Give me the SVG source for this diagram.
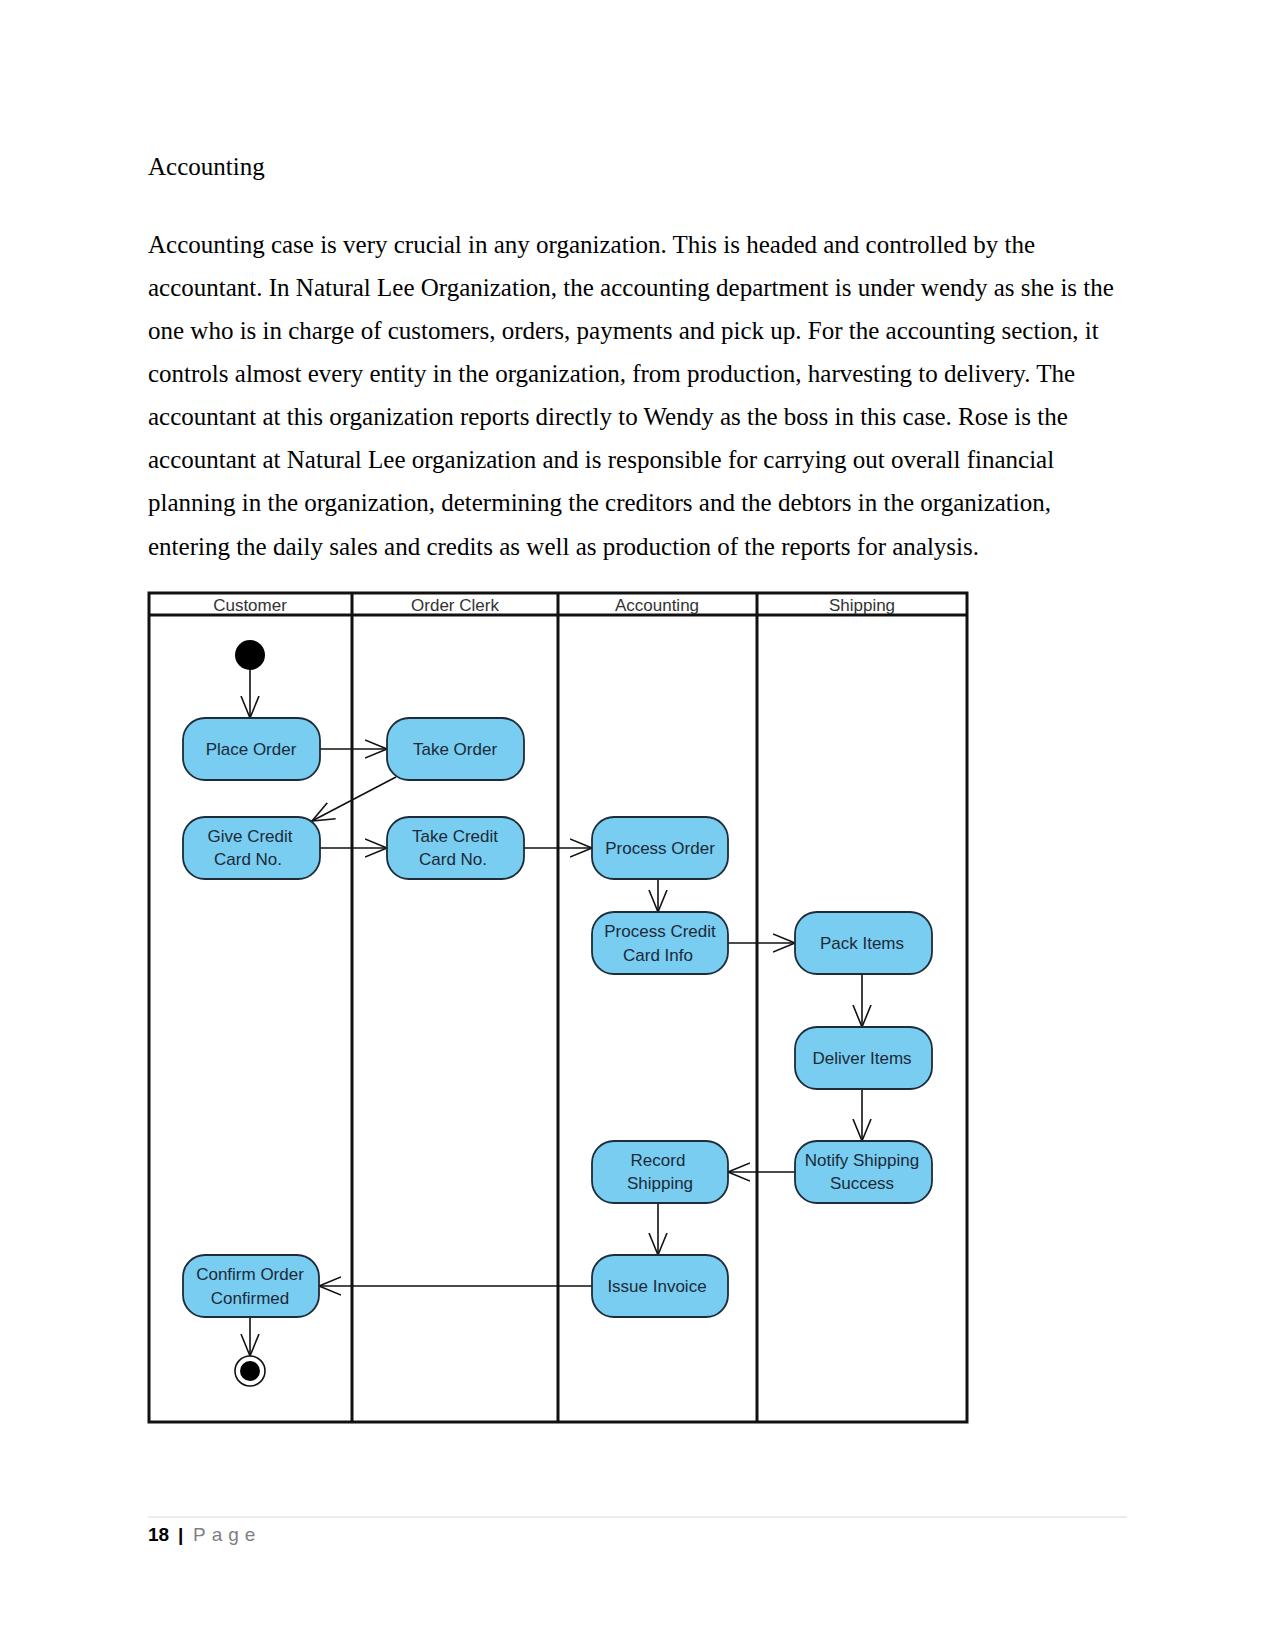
<svg xmlns="http://www.w3.org/2000/svg" width="1275" height="1651" viewBox="0 0 1275 1651">
<style>
.body{font-family:"Liberation Serif","Times New Roman",serif;font-size:25px;fill:#000}
.hdr{font-family:"Liberation Sans",Arial,sans-serif;font-size:17px;fill:#333;text-anchor:middle}
.nt{font-family:"Liberation Sans",Arial,sans-serif;font-size:17px;fill:#1c2a38;text-anchor:middle}
.node{fill:#78cdf0;stroke:#1d2c38;stroke-width:1.8}
.lane{fill:none;stroke:#111;stroke-width:3}
.conn{fill:none;stroke:#111;stroke-width:1.6}
.ft{font-family:"Liberation Sans",Arial,sans-serif;font-size:19px}
</style>
<defs>
<marker id="arr" markerUnits="userSpaceOnUse" markerWidth="30" markerHeight="30" refX="22" refY="10" orient="auto" viewBox="0 0 30 20">
<path d="M0,1 L22,10 L0,19" fill="none" stroke="#111" stroke-width="1.6"/>
</marker>
</defs>
<rect width="1275" height="1651" fill="#fff"/>
<text class="body" x="148" y="175">Accounting</text>
<text class="body" x="148" y="253">Accounting case is very crucial in any organization. This is headed and controlled by the</text>
<text class="body" x="148" y="296">accountant. In Natural Lee Organization, the accounting department is under wendy as she is the</text>
<text class="body" x="148" y="339">one who is in charge of customers, orders, payments and pick up. For the accounting section, it</text>
<text class="body" x="148" y="382">controls almost every entity in the organization, from production, harvesting to delivery. The</text>
<text class="body" x="148" y="425">accountant at this organization reports directly to Wendy as the boss in this case. Rose is the</text>
<text class="body" x="148" y="468">accountant at Natural Lee organization and is responsible for carrying out overall financial</text>
<text class="body" x="148" y="511">planning in the organization, determining the creditors and the debtors in the organization,</text>
<text class="body" x="148" y="555">entering the daily sales and credits as well as production of the reports for analysis.</text>
<g id="swimlanes">
<rect class="lane" x="149" y="593" width="818" height="829"/>
<line class="lane" x1="149" y1="615" x2="967" y2="615"/>
<line class="lane" x1="352" y1="593" x2="352" y2="1422"/>
<line class="lane" x1="558" y1="593" x2="558" y2="1422"/>
<line class="lane" x1="757" y1="593" x2="757" y2="1422"/>
<text class="hdr" x="250" y="611">Customer</text>
<text class="hdr" x="455" y="611">Order Clerk</text>
<text class="hdr" x="657" y="611">Accounting</text>
<text class="hdr" x="862" y="611">Shipping</text>
</g>
<g id="connectors">
<line class="conn" x1="250" y1="670" x2="250" y2="718" marker-end="url(#arr)"/>
<line class="conn" x1="320" y1="749" x2="387" y2="749" marker-end="url(#arr)"/>
<line class="conn" x1="396" y1="777" x2="312" y2="821" marker-end="url(#arr)"/>
<line class="conn" x1="320" y1="848" x2="387" y2="848" marker-end="url(#arr)"/>
<line class="conn" x1="524" y1="848" x2="592" y2="848" marker-end="url(#arr)"/>
<line class="conn" x1="658" y1="879" x2="658" y2="912" marker-end="url(#arr)"/>
<line class="conn" x1="728" y1="943" x2="795" y2="943" marker-end="url(#arr)"/>
<line class="conn" x1="862" y1="974" x2="862" y2="1027" marker-end="url(#arr)"/>
<line class="conn" x1="862" y1="1089" x2="862" y2="1141" marker-end="url(#arr)"/>
<line class="conn" x1="795" y1="1172" x2="728" y2="1172" marker-end="url(#arr)"/>
<line class="conn" x1="658" y1="1203" x2="658" y2="1255" marker-end="url(#arr)"/>
<line class="conn" x1="592" y1="1286" x2="319" y2="1286" marker-end="url(#arr)"/>
<line class="conn" x1="250" y1="1317" x2="250" y2="1356" marker-end="url(#arr)"/>
</g>
<g id="start"><circle cx="250" cy="655" r="15" fill="#000"/></g>
<g id="place-order"><rect class="node" x="183" y="718" width="137" height="62" rx="22"/><text class="nt" x="251" y="755">Place Order</text></g>
<g id="take-order"><rect class="node" x="387" y="718" width="137" height="62" rx="22"/><text class="nt" x="455" y="755">Take Order</text></g>
<g id="give-credit"><rect class="node" x="183" y="817" width="137" height="62" rx="22"/><text class="nt" x="250" y="842">Give Credit</text><text class="nt" x="248" y="865">Card No.</text></g>
<g id="take-credit"><rect class="node" x="387" y="817" width="137" height="62" rx="22"/><text class="nt" x="455" y="842">Take Credit</text><text class="nt" x="453" y="865">Card No.</text></g>
<g id="process-order"><rect class="node" x="592" y="817" width="136" height="62" rx="22"/><text class="nt" x="660" y="854">Process Order</text></g>
<g id="process-credit"><rect class="node" x="592" y="912" width="136" height="62" rx="22"/><text class="nt" x="660" y="937">Process Credit</text><text class="nt" x="658" y="961">Card Info</text></g>
<g id="pack-items"><rect class="node" x="795" y="912" width="137" height="62" rx="22"/><text class="nt" x="862" y="949">Pack Items</text></g>
<g id="deliver-items"><rect class="node" x="795" y="1027" width="137" height="62" rx="22"/><text class="nt" x="862" y="1064">Deliver Items</text></g>
<g id="notify-shipping"><rect class="node" x="795" y="1141" width="137" height="62" rx="22"/><text class="nt" x="862" y="1166">Notify Shipping</text><text class="nt" x="862" y="1189">Success</text></g>
<g id="record-shipping"><rect class="node" x="592" y="1141" width="136" height="62" rx="22"/><text class="nt" x="658" y="1166">Record</text><text class="nt" x="660" y="1189">Shipping</text></g>
<g id="issue-invoice"><rect class="node" x="592" y="1255" width="136" height="62" rx="22"/><text class="nt" x="657" y="1292">Issue Invoice</text></g>
<g id="confirm-order"><rect class="node" x="183" y="1255" width="136" height="62" rx="22"/><text class="nt" x="250" y="1280">Confirm Order</text><text class="nt" x="250" y="1304">Confirmed</text></g>
<g id="end"><circle cx="250" cy="1371" r="15" fill="#fff" stroke="#111" stroke-width="1.6"/><circle cx="250" cy="1371" r="10" fill="#000"/></g>
<line x1="148" y1="1517" x2="1127" y2="1517" stroke="#d8d8d8" stroke-width="1.2"/>
<text class="ft" x="148" y="1541" font-weight="bold" font-size="20">18</text>
<text class="ft" x="178" y="1541" font-weight="bold">|</text>
<text class="ft" x="193" y="1541" fill="#7f7f7f" letter-spacing="6">Page</text>
</svg>
